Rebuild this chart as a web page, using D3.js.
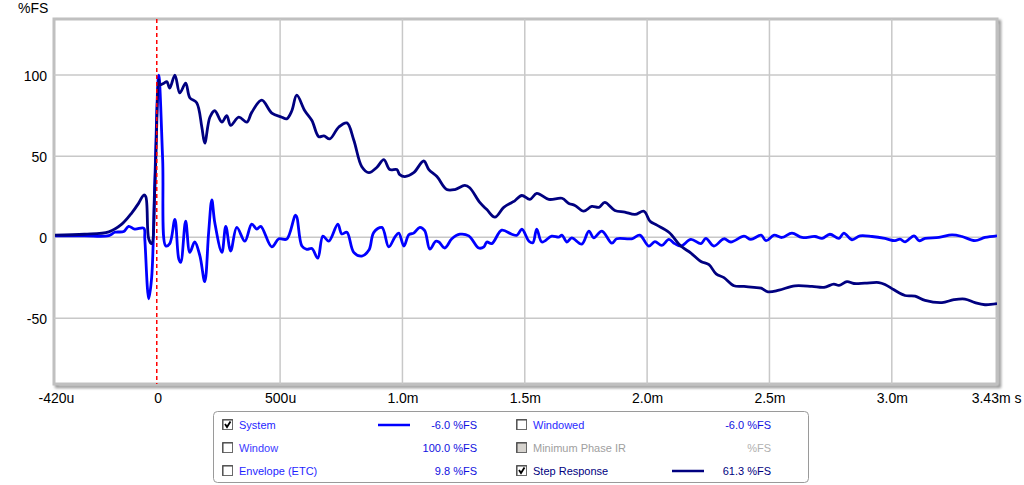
<!DOCTYPE html>
<html><head><meta charset="utf-8">
<script src="https://cdn.jsdelivr.net/npm/d3@7"></script>
<style>body{margin:0;background:#fff;} svg{display:block;font-family:"Liberation Sans",Arial,sans-serif;}</style>
</head><body><svg id="c" width="1024" height="485"></svg>
<script>
// ---- data ----
const xTickValues = [-420, 0, 500, 1000, 1500, 2000, 2500, 3000, 3430];
const xTickLabels = ["-420u", "0", "500u", "1.0m", "1.5m", "2.0m", "2.5m", "3.0m", "3.43m"];
const xGridValues = [500, 1000, 1500, 2000, 2500, 3000];
const yTickValues = [100, 50, 0, -50];
const yTickLabels = ["100", "50", "0", "-50"];
const yUnit = "%FS";
const xUnit = "s";

// System (impulse) response, time in microseconds, value in %FS
const systemTime = [-420,-300,-200,-176,-139,-119,-94,-57,-53,-37,-25,-12,4,20,33,49,70,86,94,114,131,151,172,192,208,221,233,262,278,298,323,356,384,405,421,466,495,527,564,589,609,630,654,675,699,736,752,773,801,834,863,883,916,944,969,985,1006,1026,1046,1071,1091,1112,1136,1149,1173,1202,1235,1271,1312,1333,1345,1365,1406,1447,1468,1488,1517,1533,1549,1570,1610,1639,1652,1672,1692,1733,1762,1782,1815,1856,1876,1937,1970,2007,2032,2060,2089,2113,2138,2179,2220,2240,2273,2314,2342,2396,2424,2466,2486,2519,2551,2592,2633,2686,2715,2747,2784,2804,2837,2870,2919,2972,3013,3034,3054,3091,3111,3136,3193,3246,3287,3340,3381,3430];
const systemValue = [0.8,0.8,0.9,3,3.5,6.7,5,5.5,-1,-38,-25,35,100,48,-5.4,-4,11,-13.5,-15.5,9.8,-9.4,-3,-11.4,-27.5,3,23,9,-9.4,6.7,-8.6,6,-2.5,8,5,6.7,-6,-1,-1.2,13.5,-5.5,-7.5,-7,-13,0.6,-2.5,8,2,3,-9.4,-11.7,-8,3,6,-6,0,2.5,-5.5,1.5,2.5,6,4,-7.4,-2.5,-3,-6.7,-1,1.8,0.8,-6.7,-6,-3,-4,4.3,1.8,1.2,4.9,-2.5,-3.5,5,-3,0.6,0,1.2,-3,-0.5,-4.3,3.7,-0.4,3.7,-3.7,-1,-1,1.2,-5.5,-2.7,-5.1,-1.4,-4,-5.5,-1.4,-4,-0.8,-5.5,-1,-3,0.6,-1.4,1.2,-2.2,1.2,-0.2,2.5,-0.2,0.4,-0.8,1.8,-0.8,2.5,-1.6,0.8,0.4,-0.8,-2.2,-1.2,-2.9,0.8,-2.2,-0.8,-0.2,1.4,0.4,-2.2,-0.2,0.8];

// Step response, time in microseconds, value in %FS
const stepTime = [-420,-300,-200,-147,-106,-78,-57,-49,-37,-25,-12,4,8,25,37,49,70,90,114,131,159,180,192,213,233,262,282,298,331,364,384,425,466,507,527,548,568,601,630,658,679,703,740,773,801,834,863,895,924,948,977,989,1010,1046,1087,1108,1141,1181,1214,1255,1275,1316,1345,1378,1414,1447,1459,1488,1521,1549,1598,1652,1680,1705,1741,1774,1803,1827,1868,1909,1950,1987,2012,2040,2089,2138,2179,2220,2253,2282,2314,2355,2396,2437,2466,2494,2539,2604,2674,2723,2763,2784,2817,2845,2890,2947,2972,3009,3054,3095,3136,3205,3254,3299,3340,3381,3430];
const stepValue = [1.2,1.8,3.3,8,15,21,26,25,-1,-4,30,97,94,95,96,92,100,89,95,86,83,68,58,74,78,71,75,69,74,71,77,84.5,76.6,74,73,78,87.6,78,72,62,62.5,60.6,68,70.5,60,43.5,39.8,43,47.8,41.7,41.7,38.6,37.4,39.8,47,41.7,37.4,29.4,29.4,31.9,30.5,21.4,17,12.3,18.4,21.4,22.4,25.7,23.3,27,23.3,24,20.8,19.6,16,19,18.4,21.4,16.5,15.5,14,16,9.8,7.4,3,-5.5,-9.8,-15,-17,-22.7,-25,-30,-30.4,-31,-31.5,-33.7,-32.7,-30,-30.4,-31,-29,-29.8,-27.5,-28.6,-28.4,-28,-29.2,-32.5,-36,-36.4,-39,-40.4,-38.6,-38.2,-40.4,-41.7,-41];

// legend
const legendLabels = ["System", "Window", "Envelope (ETC)", "Windowed", "Minimum Phase IR", "Step Response"];
const legendValues = ["-6.0 %FS", "100.0 %FS", "9.8 %FS", "-6.0 %FS", "%FS", "61.3 %FS"];
const legendChecked = [true, false, false, false, false, true];
const legendEnabled = [true, true, true, true, false, true];
const legendHasLine = [true, false, false, false, false, true];

// ---- drawing ----
const svg = d3.select("#c");
const plot = {left: 54, top: 19, right: 997, bottom: 384};

const x = d3.scaleLinear().domain([-420, 3430]).range([55, 997]);
const y = d3.scaleLinear().domain([-90, 134]).range([383, 20]);

const defs = svg.append("defs");
const f = defs.append("filter").attr("id", "sh").attr("x", "-5%").attr("y", "-5%").attr("width", "110%").attr("height", "110%");
f.append("feGaussianBlur").attr("stdDeviation", 1.6);
defs.append("clipPath").attr("id", "clip").append("rect")
  .attr("x", plot.left).attr("y", plot.top).attr("width", plot.right - plot.left).attr("height", plot.bottom - plot.top);

// frame shadow + frame
svg.append("rect").attr("x", plot.left + 2.5).attr("y", plot.top + 2.5)
  .attr("width", plot.right - plot.left).attr("height", plot.bottom - plot.top)
  .attr("fill", "none").attr("stroke", "#8c8c8c").attr("stroke-width", 3).attr("filter", "url(#sh)");
svg.append("rect").attr("x", plot.left).attr("y", plot.top)
  .attr("width", plot.right - plot.left).attr("height", plot.bottom - plot.top)
  .attr("fill", "#fff").attr("stroke", "#c0c0c0").attr("stroke-width", 3);

// grid
const g = svg.append("g").attr("clip-path", "url(#clip)");
g.selectAll("line.vg").data(xGridValues).join("line")
  .attr("x1", d => x(d)).attr("x2", d => x(d)).attr("y1", plot.top).attr("y2", plot.bottom)
  .attr("stroke", "#c8c8c8").attr("stroke-width", 1.5);
g.selectAll("line.hg").data(yTickValues).join("line")
  .attr("x1", plot.left).attr("x2", plot.right).attr("y1", d => y(d)).attr("y2", d => y(d))
  .attr("stroke", "#c8c8c8").attr("stroke-width", 1.5);

// axes (labels only)
const xAxis = d3.axisBottom(x).tickValues(xTickValues)
  .tickFormat((d, i) => xTickLabels[i]).tickSize(0).tickPadding(0);
const xa = svg.append("g").attr("transform", `translate(0,${plot.bottom})`).call(xAxis);
xa.select(".domain").remove();
xa.selectAll("text").attr("font-size", 14).attr("fill", "#000").attr("font-family", "Liberation Sans, Arial, sans-serif")
  .attr("y", 19).attr("dy", 0);
xa.selectAll(".tick").filter((d, i) => i === xTickValues.length - 1).select("text")
  .text(xTickLabels[xTickLabels.length - 1] + " " + xUnit).attr("text-anchor", "end")
  .attr("transform", `translate(${1021 - x(3430)},0)`);
xa.selectAll(".tick").filter((d, i) => i === 0).select("text").attr("transform", "translate(1,0)");

const yAxis = d3.axisLeft(y).tickValues(yTickValues)
  .tickFormat((d, i) => yTickLabels[i]).tickSize(0).tickPadding(0);
const ya = svg.append("g").attr("transform", `translate(47,0)`).call(yAxis);
ya.select(".domain").remove();
ya.selectAll("text").attr("font-size", 14).attr("fill", "#000").attr("font-family", "Liberation Sans, Arial, sans-serif")
  .attr("dy", "0.36em");
svg.append("text").attr("x", 18).attr("y", 13).attr("font-size", 14).attr("fill", "#000").text(yUnit);

// curves
const line = d3.line().x(d => x(d[0])).y(d => y(d[1])).curve(d3.curveCatmullRom.alpha(0.5));
const sysData = systemTime.map((t, i) => [t, systemValue[i]]);
const stepData = stepTime.map((t, i) => [t, stepValue[i]]);
g.append("path").datum(sysData).attr("d", line).attr("fill", "none")
  .attr("stroke", "#0000ff").attr("stroke-width", 2.8).attr("stroke-linejoin", "round");
g.append("path").datum(stepData).attr("d", line).attr("fill", "none")
  .attr("stroke", "#000080").attr("stroke-width", 2.8).attr("stroke-linejoin", "round");

// zero-time marker
g.append("line").attr("x1", x(0) - 1).attr("x2", x(0) - 1).attr("y1", plot.top).attr("y2", plot.bottom)
  .attr("stroke", "#ff0000").attr("stroke-width", 1.5).attr("stroke-dasharray", "4,3");

// legend
const lg = svg.append("g");
lg.append("rect").attr("x", 213.5).attr("y", 411.5).attr("width", 595).attr("height", 71).attr("rx", 4)
  .attr("fill", "#fff").attr("stroke", "#9a9a9a").attr("stroke-width", 1);
const rowY = [425, 448, 471];
const colBox = [222.5, 516.5];
const colText = [239, 533];
const colValEnd = [477, 771];
const colLine = [[378, 410], [672, 704]];
const labelColors = ["#1f1fff", "#3a3aff", "#1f1fff", "#2a2aff", "#a0a0a0", "#000080"];
const valueColors = ["#1010e0", "#1010e0", "#1010e0", "#1010e0", "#b0b0b0", "#000080"];
const lineColors = ["#0000ff", null, null, null, null, "#000080"];
legendLabels.forEach((lab, i) => {
  const col = Math.floor(i / 3), row = i % 3;
  const cy = rowY[row];
  const bx = colBox[col];
  const item = lg.append("g");
  item.append("rect").attr("x", bx).attr("y", cy - 5.5).attr("width", 10).attr("height", 10)
    .attr("fill", legendEnabled[i] ? "#fff" : "#d6d3ce").attr("stroke", "#6a6a6a").attr("stroke-width", 1);
  item.append("path").attr("d", `M${bx + 0.5},${cy + 4.5}V${cy - 5}H${bx + 10}`)
    .attr("fill", "none").attr("stroke", "#404040").attr("stroke-width", 1);
  if (legendChecked[i]) {
    item.append("path").attr("d", `M${bx + 2.5},${cy - 1}L${bx + 4.5},${cy + 2}L${bx + 8},${cy - 3.5}`)
      .attr("fill", "none").attr("stroke", "#000").attr("stroke-width", 1.8);
  }
  item.append("text").attr("x", colText[col]).attr("y", cy + 4).attr("font-size", 11)
    .attr("fill", labelColors[i]).text(lab);
  item.append("text").attr("x", colValEnd[col]).attr("y", cy + 4).attr("font-size", 11)
    .attr("text-anchor", "end").attr("fill", valueColors[i]).text(legendValues[i]);
  if (legendHasLine[i]) {
    item.append("line").attr("x1", colLine[col][0]).attr("x2", colLine[col][1])
      .attr("y1", cy).attr("y2", cy).attr("stroke", lineColors[i]).attr("stroke-width", 2.5);
  }
});
</script>
</body></html>
